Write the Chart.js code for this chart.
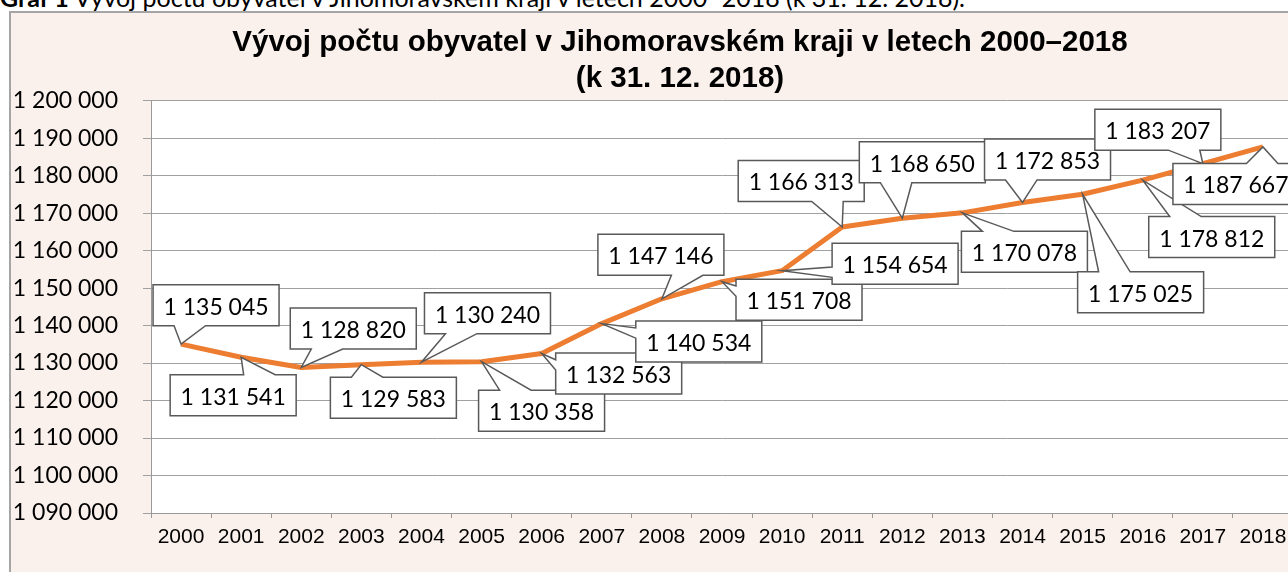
<!DOCTYPE html>
<html>
<head>
<meta charset="utf-8">
<script src="https://cdn.jsdelivr.net/npm/chart.js@4/dist/chart.umd.min.js"></script>
<style>
  html, body { margin: 0; padding: 0; background: #fff; overflow: hidden; width: 1288px; height: 572px; }
  #caption { position: absolute; left: 0; top: -15px; font: 25px/25px Lato, sans-serif; color: #000; white-space: nowrap; }
  #frame { position: absolute; left: 9px; top: 11px; width: 1400px; height: 620px; border: 2px solid #a5a5a5; background: #fbf1ec; }
  #chart { position: absolute; left: 0; top: 0; }
</style>
</head>
<body>
<div id="caption"><b>Graf 1</b> Vývoj počtu obyvatel v Jihomoravském kraji v letech 2000–2018 (k 31. 12. 2018).</div>
<div id="frame"><canvas id="chart" width="1338" height="580"></canvas></div>
<script>

const years = ["2000","2001","2002","2003","2004","2005","2006","2007","2008","2009",
               "2010","2011","2012","2013","2014","2015","2016","2017","2018"];

const population = [1135045, 1131541, 1128820, 1129583, 1130240, 1130358, 1132563, 1140534, 1147146, 1151708,
                    1154654, 1166313, 1168650, 1170078, 1172853, 1175025, 1178812, 1183207, 1187667];

const yMin = 1090000;
const yMax = 1200000;
const yStep = 10000;

// where each callout box sits, relative to its point (box centre, px)
const labelShift = [
    [35, -39], [-8, 38], [52, -39], [32, 33], [66, -49], [60, 49], [77, 20], [97, 18], [-1, -44], [77, 18],
    [113, -7], [-41, -46], [20, -56], [62, 39], [25, -43], [58, 98], [69, 57], [-45, -34], [-27, 37]
];

function fmt(v){
    return String(v).replace(/\B(?=(\d{3})+(?!\d))/g, " ");
}

const plotBackground = {
    id: "plotBackground",
    beforeDraw(chart){
        const a = chart.chartArea;
        chart.ctx.save();
        chart.ctx.fillStyle = "#ffffff";
        chart.ctx.fillRect(a.left, a.top, a.right - a.left, a.bottom - a.top);
        chart.ctx.restore();
    }
};

// Excel-like rectangular callouts with a wedge pointing at the data point
const callouts = {
    id: "callouts",
    afterDatasetsDraw(chart){
        const ctx = chart.ctx;
        const meta = chart.getDatasetMeta(0);
        ctx.save();
        ctx.font = "23px Lato";
        meta.data.forEach((pt, i) => {
            const text = fmt(population[i]);
            const w = Math.round(ctx.measureText(text).width + 21);
            const h = 41;
            const cx = pt.x + labelShift[i][0];
            const cy = pt.y + labelShift[i][1];
            const l = cx - w / 2, t = cy - h / 2, r = l + w, b = t + h;
            const dx = pt.x - cx, dy = pt.y - cy;
            const dz = Math.abs(dy) - Math.abs(dx) * h / w;
            const xa = dx > 0 ? 7 : 2, xb = dx > 0 ? 10 : 5;
            const ya = dy > 0 ? 7 : 2, yb = dy > 0 ? 10 : 5;

            ctx.beginPath();
            ctx.moveTo(l, t);
            if (dz > 0 && dy < 0){
                ctx.lineTo(l + w * xa / 12, t);
                ctx.lineTo(pt.x, pt.y);
                ctx.lineTo(l + w * xb / 12, t);
            }
            ctx.lineTo(r, t);
            if (dz <= 0 && dx > 0){
                ctx.lineTo(r, t + h * ya / 12);
                ctx.lineTo(pt.x, pt.y);
                ctx.lineTo(r, t + h * yb / 12);
            }
            ctx.lineTo(r, b);
            if (dz > 0 && dy >= 0){
                ctx.lineTo(l + w * xb / 12, b);
                ctx.lineTo(pt.x, pt.y);
                ctx.lineTo(l + w * xa / 12, b);
            }
            ctx.lineTo(l, b);
            if (dz <= 0 && dx <= 0){
                ctx.lineTo(l, t + h * yb / 12);
                ctx.lineTo(pt.x, pt.y);
                ctx.lineTo(l, t + h * ya / 12);
            }
            ctx.closePath();
            ctx.fillStyle = "#ffffff";
            ctx.fill();
            ctx.lineWidth = 1.5;
            ctx.strokeStyle = "#595959";
            ctx.stroke();

            ctx.fillStyle = "#000000";
            ctx.textAlign = "center";
            ctx.textBaseline = "alphabetic";
            ctx.fillText(text, cx, t + 30);
        });
        ctx.restore();
    }
};

new Chart(document.getElementById("chart"), {
    type: "line",
    data: {
        labels: years,
        datasets: [{
            data: population,
            borderColor: "#ed7d31",
            borderWidth: 5,
            pointRadius: 0,
            tension: 0,
            borderJoinStyle: "round"
        }]
    },
    options: {
        responsive: false,
        animation: false,
        devicePixelRatio: 1,
        layout: { padding: 0 },
        plugins: {
            legend: { display: false },
            tooltip: { enabled: false },
            title: {
                display: true,
                text: ["Vývoj počtu obyvatel v Jihomoravském kraji v letech 2000–2018", "(k 31. 12. 2018)"],
                color: "#000",
                font: { family: "Liberation Sans", size: 29.5, weight: "bold", lineHeight: 1.22 },
                padding: { top: 11.7, bottom: 4 }
            }
        },
        scales: {
            x: {
                offset: true,
                grid: { offset: true, drawOnChartArea: false, tickLength: 5, color: "#999" },
                border: { color: "#999" },
                ticks: { color: "#000", font: { family: "Liberation Sans", size: 21 }, padding: 7, maxRotation: 0, autoSkip: false },
                afterFit(scale){ scale.height = 80; }
            },
            y: {
                min: yMin,
                max: yMax,
                grid: { tickLength: 8, color: "#a0a0a0" },
                border: { color: "#999" },
                ticks: {
                    stepSize: yStep,
                    color: "#000",
                    font: { family: "Lato", size: 23 },
                    padding: 25,
                    callback: v => fmt(v)
                },
                afterFit(scale){ scale.width = 140; }
            },
            // empty strip on the right, the plot stops before the frame edge
            spacer: {
                type: "linear",
                position: "right",
                grid: { display: false },
                border: { display: false },
                ticks: { display: false },
                afterFit(scale){ scale.width = 56; }
            }
        }
    },
    plugins: [plotBackground, callouts]
});

</script>
</body>
</html>
